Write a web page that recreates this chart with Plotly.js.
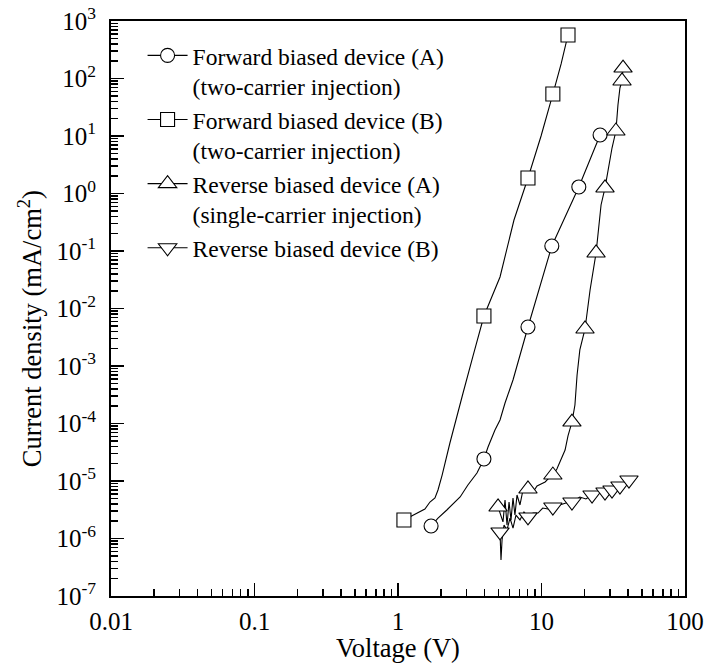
<!DOCTYPE html>
<html>
<head>
<meta charset="utf-8">
<script src="https://cdn.plot.ly/plotly-3.0.1.min.js"></script>
<style>html,body{margin:0;padding:0;background:#fff;}#chart{width:711px;height:663px;}</style>
</head>
<body>
<div id="chart"></div>
<script>
// ---- Data (voltage V, current density mA/cm^2) ----
// Forward biased device (A): measured curve
const fwdA_V = [1.70, 1.90, 2.19, 2.71, 3.07, 3.55, 3.97, 4.24, 4.74, 5.14, 5.57, 6.33, 8.05, 11.8, 18.2, 25.6];
const fwdA_J = [1.65e-6, 2.27e-6, 3.13e-6, 5.27e-6, 8.51e-6, 1.38e-5, 2.42e-5, 3.90e-5, 7.71e-5, 1.15e-4, 2.27e-4, 5.71e-4, 4.77e-3, 0.122, 1.30, 10.4];
// Forward biased device (A): symbol points
const fwdA_markV = [1.70, 3.97, 8.05, 11.8, 18.2, 25.6];
const fwdA_markJ = [1.65e-6, 2.42e-5, 4.77e-3, 0.122, 1.30, 10.4];

// Forward biased device (B)
const fwdB_V = [1.10, 1.25, 1.54, 1.67, 1.81, 1.90, 2.03, 2.30, 2.58, 2.84, 3.33, 3.97, 5.14, 6.43, 8.05, 9.93, 12.0, 13.7, 15.3];
const fwdB_J = [2.10e-6, 2.46e-6, 3.26e-6, 4.31e-6, 5.06e-6, 6.97e-6, 1.27e-5, 4.58e-5, 1.41e-4, 3.39e-4, 1.49e-3, 7.41e-3, 3.53e-2, 0.346, 1.86, 10.0, 53.7, 179, 571];
const fwdB_markV = [1.10, 3.97, 8.05, 12.0, 15.3];
const fwdB_markJ = [2.10e-6, 7.41e-3, 1.86, 53.7, 571];

// Reverse biased device (A)
const revA_V = [4.98, 5.39, 5.57, 5.75, 5.94, 6.13, 6.33, 6.53, 6.75, 7.08, 7.43, 8.05, 8.73, 9.31, 9.93, 10.6, 11.3, 12.0, 12.8, 13.7, 14.6, 15.3, 16.3, 17.1, 17.7, 18.5, 20.1, 21.8, 24.0, 26.0, 27.7, 31.0, 33.0, 34.1, 35.2, 36.4, 37.0];
const revA_J = [3.53e-6, 1.94e-6, 4.68e-6, 1.72e-6, 4.31e-6, 2.10e-6, 5.06e-6, 2.56e-6, 5.71e-6, 3.83e-6, 6.97e-6, 7.26e-6, 6.44e-6, 8.18e-6, 8.87e-6, 9.61e-6, 1.13e-5, 1.27e-5, 1.62e-5, 2.32e-5, 3.46e-5, 6.07e-5, 1.06e-4, 2.10e-4, 6.97e-4, 1.90e-3, 4.40e-3, 2.10e-2, 9.23e-2, 0.631, 1.25, 6.18, 12.2, 34.6, 68.4, 90.5, 152];
const revA_markV = [4.98, 8.05, 12.0, 16.3, 20.1, 24.0, 27.7, 33.0, 36.4, 37.0];
const revA_markJ = [3.53e-6, 7.26e-6, 1.27e-5, 1.06e-4, 4.40e-3, 9.23e-2, 1.25, 12.2, 90.5, 152];

// Reverse biased device (B)
const revB_V = [5.14, 5.22, 5.31, 5.48, 5.75, 6.03, 6.33, 6.64, 7.08, 7.55, 8.05, 8.73, 9.46, 10.2, 11.1, 12.0, 13.4, 14.8, 16.3, 18.5, 20.4, 22.5, 24.8, 27.7, 31.0, 35.2, 40.7];
const revB_J = [1.30e-6, 4.23e-7, 9.42e-7, 1.72e-6, 1.41e-6, 2.27e-6, 1.52e-6, 2.56e-6, 2.10e-6, 2.89e-6, 2.37e-6, 2.77e-6, 2.77e-6, 3.39e-6, 3.26e-6, 3.53e-6, 3.83e-6, 4.14e-6, 4.31e-6, 5.27e-6, 4.87e-6, 5.71e-6, 6.44e-6, 6.44e-6, 6.97e-6, 8.18e-6, 1.04e-5];
const revB_markV = [5.14, 8.05, 12.0, 16.3, 22.5, 27.7, 31.0, 35.2, 40.7];
const revB_markJ = [1.30e-6, 2.37e-6, 3.53e-6, 4.31e-6, 5.71e-6, 6.44e-6, 6.97e-6, 8.18e-6, 1.04e-5];

const seriesNames = [
  'Forward biased device (A)<br>(two-carrier injection)',
  'Forward biased device (B)<br>(two-carrier injection)',
  'Reverse biased device (A)<br>(single-carrier injection)',
  'Reverse biased device (B)'
];
const seriesSymbols = ['circle', 'square', 'triangle-up', 'triangle-down'];

const xTickVals = [0.01, 0.1, 1, 10, 100];
const xTickText = ['0.01', '0.1', '1', '10', '100'];
const yExponents = [-7, -6, -5, -4, -3, -2, -1, 0, 1, 2, 3];
const xTitle = 'Voltage (V)';
const yTitle = 'Current density (mA/cm<sup>2</sup>)';

// ---- Build ----
const FONT = '"Liberation Serif", "Times New Roman", serif';
function isolate(a) { // separate points so that no segment joins the symbols
  const out = [];
  a.forEach((v, i) => { if (i) out.push(null); out.push(v); });
  return out;
}
const curves = [[fwdA_V, fwdA_J], [fwdB_V, fwdB_J], [revA_V, revA_J], [revB_V, revB_J]];
const marks = [[fwdA_markV, fwdA_markJ], [fwdB_markV, fwdB_markJ], [revA_markV, revA_markJ], [revB_markV, revB_markJ]];

const traces = [];
curves.forEach(c => traces.push({
  x: c[0], y: c[1], type: 'scatter', mode: 'lines', showlegend: false, hoverinfo: 'skip',
  line: {color: '#000', width: 1.1}
}));
marks.forEach((m, i) => traces.push({
  x: isolate(m[0]), y: isolate(m[1]), type: 'scatter', mode: 'lines+markers', connectgaps: false,
  name: seriesNames[i],
  line: {color: '#000', width: 1.1},
  marker: {symbol: seriesSymbols[i], size: (i >= 2 ? 16 : 14), color: '#fff', line: {color: '#000', width: 1.1}}
}));

function minorVals(lo, hi) {
  const v = [];
  for (let e = lo; e < hi; e++) for (let k = 2; k <= 9; k++) v.push(k * Math.pow(10, e));
  return v;
}

const layout = {
  width: 711, height: 663,
  margin: {l: 111, r: 26, t: 21, b: 67},
  paper_bgcolor: '#fff', plot_bgcolor: '#fff',
  font: {family: FONT, size: 25, color: '#000'},
  showlegend: true,
  legend: {x: 0.055, y: 0.978, xanchor: 'left', yanchor: 'top', bgcolor: 'rgba(0,0,0,0)',
           font: {family: FONT, size: 23.5, color: '#000'}, valign: 'top', itemwidth: 40, tracegroupgap: 0},
  xaxis: {
    type: 'log', range: [-2, 2], showgrid: false, zeroline: false,
    showline: true, linewidth: 2, linecolor: '#000', mirror: true,
    tickmode: 'array', tickvals: xTickVals, ticktext: xTickText,
    ticks: 'inside', ticklen: 13, tickwidth: 1.5, tickcolor: '#000', ticklabelstandoff: 2,
    tickfont: {family: FONT, size: 25},
    minor: {tickmode: 'array', tickvals: minorVals(-2, 2), ticks: 'inside', ticklen: 7, tickwidth: 1.5, tickcolor: '#000', showgrid: false},
    title: {text: xTitle, font: {family: FONT, size: 26.5}, standoff: 0}
  },
  yaxis: {
    type: 'log', range: [-7, 3], showgrid: false, zeroline: false,
    showline: true, linewidth: 2, linecolor: '#000', mirror: true,
    tickmode: 'array', tickvals: yExponents.map(e => Math.pow(10, e)),
    ticktext: yExponents.map(e => '10<sup>' + e + '</sup>'),
    ticks: 'inside', ticklen: 13, tickwidth: 1.5, tickcolor: '#000', ticklabelstandoff: 8,
    tickfont: {family: FONT, size: 25},
    minor: {tickmode: 'array', tickvals: minorVals(-7, 3), ticks: 'inside', ticklen: 7, tickwidth: 1.5, tickcolor: '#000', showgrid: false}
  },
  annotations: [{
    text: yTitle, textangle: -90, xref: 'paper', yref: 'paper', x: -0.141, y: 0.464,
    xanchor: 'center', yanchor: 'middle', showarrow: false, font: {family: FONT, size: 26.5, color: '#000'}
  }]
};

Plotly.newPlot('chart', traces, layout, {staticPlot: true, displayModeBar: false});
</script>
</body>
</html>
